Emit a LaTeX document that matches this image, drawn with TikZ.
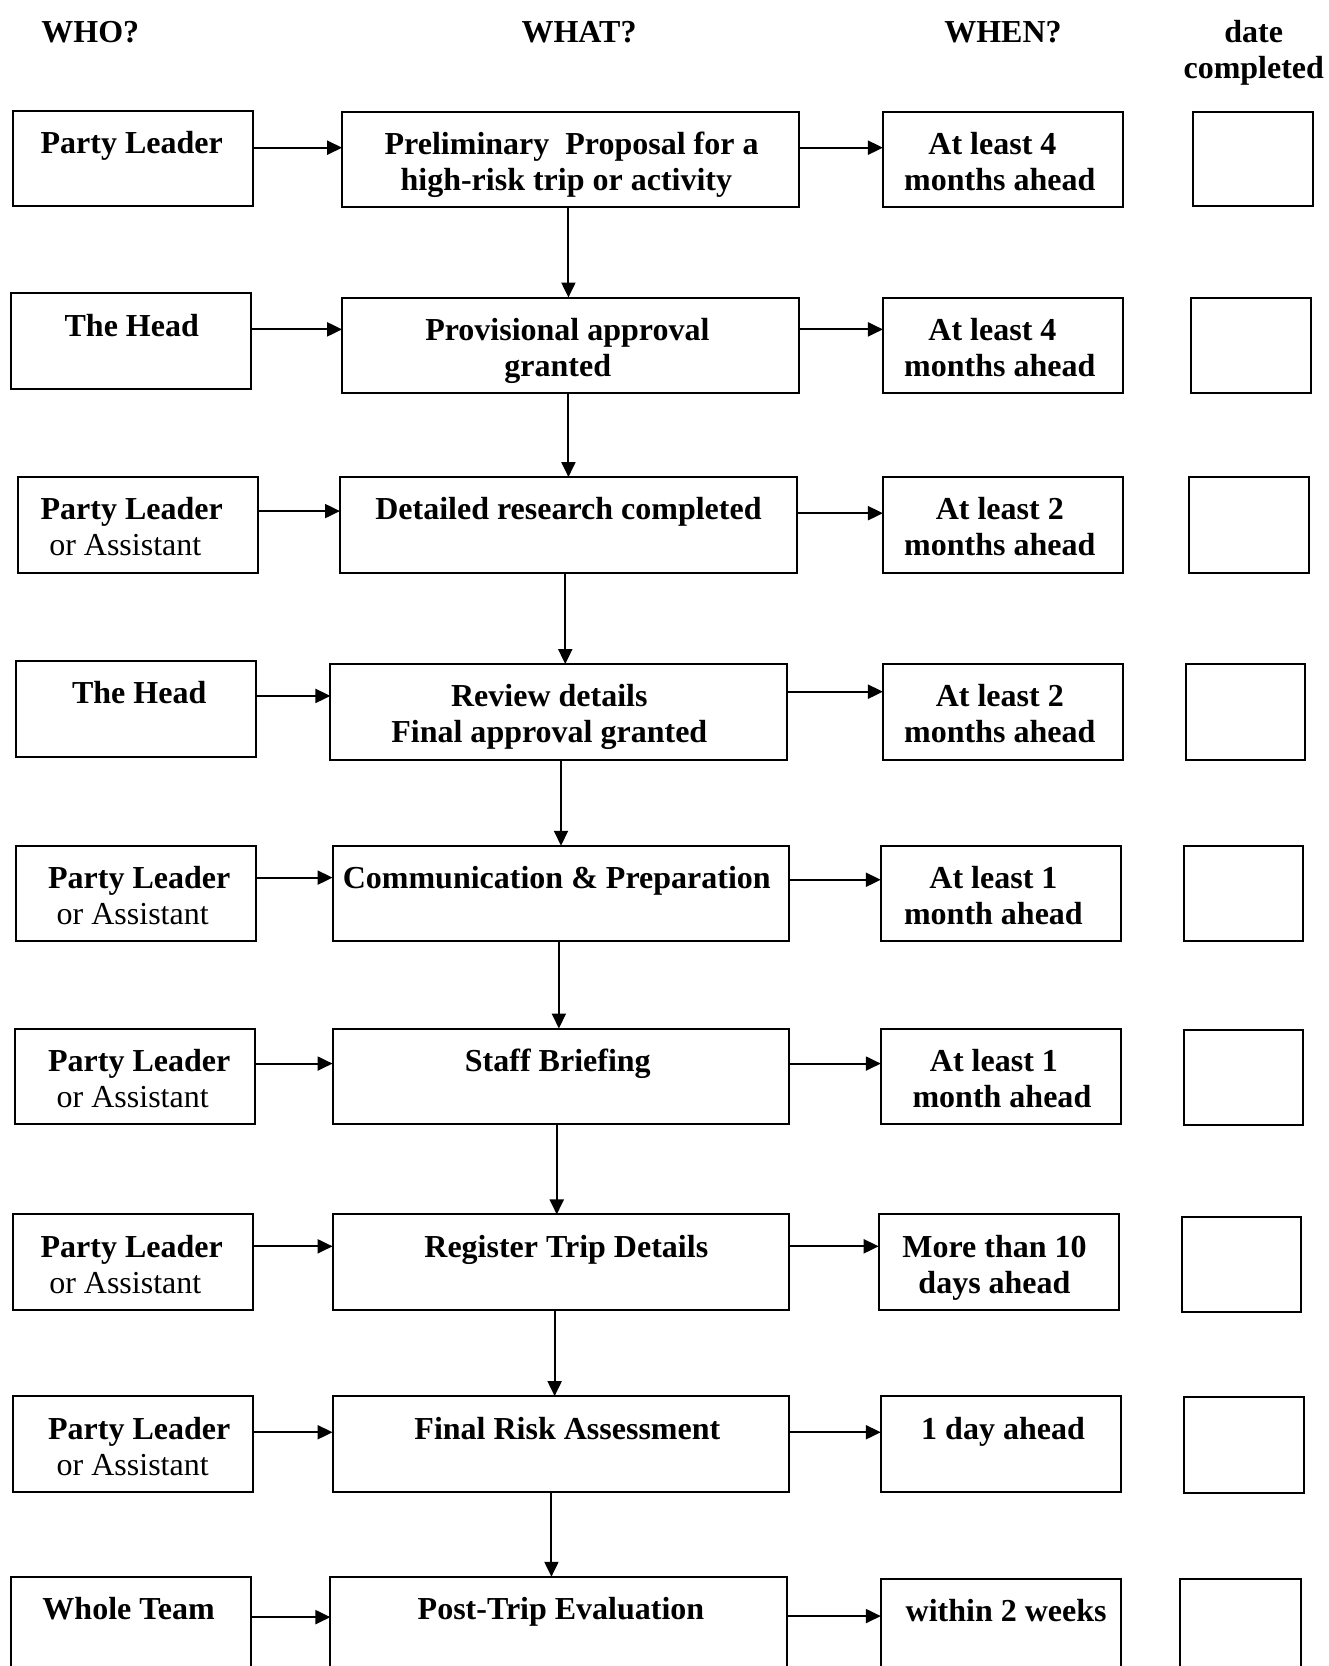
\documentclass[tikz,border=0pt]{standalone}
\usepackage{fontspec}
\setmainfont{Liberation Serif}
\usetikzlibrary{arrows.meta}
\newcommand{\flowbox}[5]{\node[box, minimum width={(#4-#2)*1.0624pt}, minimum height={(#5-#3)*1.0624pt}] (#1) at ({(#2+#4)/2},{(#3+#5)/2}) {};}
\begin{document}
\begin{tikzpicture}[x=1.0624pt, y=-1.0624pt,
  box/.style={draw, line width=2pt, inner sep=0pt, outer sep=0pt},
  txt/.style={anchor=north, inner sep=0pt, align=center, font=\fontsize{32}{36}\selectfont\bfseries},
  wtxt/.style={txt, align=left},
  arr/.style={line width=2pt, -{Triangle[length=15pt,width=14pt]}}]
\useasboundingbox (0,0) rectangle (1250,1568);
\clip (0,0) rectangle (1250,1568);
% headers
\node[txt] (hwho) at (85,20) {WHO?};
\node[txt] (hwhat) at (545,20) {WHAT?};
\node[txt] (hwhen) at (944,20) {WHEN?};
\node[txt] (hdate) at (1180,19) {date\\completed};
% who boxes
\flowbox{who1}{12}{104}{238}{194}
\flowbox{who2}{10}{276}{236}{366}
\flowbox{who3}{17}{449}{243}{539}
\flowbox{who4}{15}{622}{241}{712}
\flowbox{who5}{15}{796}{241}{886}
\flowbox{who6}{14}{968}{240}{1058}
\flowbox{who7}{12}{1143}{238}{1233}
\flowbox{who8}{12}{1314}{238}{1404}
\flowbox{who9}{10}{1484}{236}{1580}
% what boxes
\flowbox{what1}{322}{105}{752}{195}
\flowbox{what2}{322}{280}{752}{370}
\flowbox{what3}{320}{449}{750}{539}
\flowbox{what4}{311}{625}{741}{715}
\flowbox{what5}{313}{796}{743}{886}
\flowbox{what6}{313}{968}{743}{1058}
\flowbox{what7}{313}{1143}{743}{1233}
\flowbox{what8}{313}{1314}{743}{1404}
\flowbox{what9}{311}{1484}{741}{1580}
% when boxes
\flowbox{when1}{831}{105}{1057}{195}
\flowbox{when2}{831}{280}{1057}{370}
\flowbox{when3}{831}{449}{1057}{539}
\flowbox{when4}{831}{625}{1057}{715}
\flowbox{when5}{829}{796}{1055}{886}
\flowbox{when6}{829}{968}{1055}{1058}
\flowbox{when7}{827}{1143}{1053}{1233}
\flowbox{when8}{829}{1314}{1055}{1404}
\flowbox{when9}{829}{1486}{1055}{1580}
% date boxes
\flowbox{date1}{1123}{105}{1236}{194}
\flowbox{date2}{1121}{280}{1234}{370}
\flowbox{date3}{1119}{449}{1232}{539}
\flowbox{date4}{1116}{625}{1228}{715}
\flowbox{date5}{1114}{796}{1226}{886}
\flowbox{date6}{1114}{969}{1226}{1059}
\flowbox{date7}{1112}{1145}{1224}{1235}
\flowbox{date8}{1114}{1315}{1227}{1405}
\flowbox{date9}{1111}{1486}{1224}{1580}
% who texts
\node[wtxt] (twho1) at (124,123.3) {Party Leader};
\node[wtxt] (twho2) at (124,295.3) {The Head};
\node[wtxt] (twho3) at (124,468.3) {Party Leader\\\hspace*{0.27em}{\mdseries or Assistant}};
\node[wtxt] (twho4) at (131,641.3) {The Head};
\node[wtxt] (twho5) at (131,815.3) {Party Leader\\\hspace*{0.27em}{\mdseries or Assistant}};
\node[wtxt] (twho6) at (131,987.3) {Party Leader\\\hspace*{0.27em}{\mdseries or Assistant}};
\node[wtxt] (twho7) at (124,1162.3) {Party Leader\\\hspace*{0.27em}{\mdseries or Assistant}};
\node[wtxt] (twho8) at (131,1333.3) {Party Leader\\\hspace*{0.27em}{\mdseries or Assistant}};
\node[wtxt] (twho9) at (121,1503.3) {Whole Team};
% what texts
\node[txt] (twhat1) at (538,124.3) {Preliminary\ \ Proposal for a\\\hspace*{-0.33em}high-risk trip or activity};
\node[txt] (twhat2) at (534,299.3) {Provisional approval\\\hspace*{-0.6em}granted};
\node[txt] (twhat3) at (535,468.3) {Detailed research completed};
\node[txt] (twhat4) at (517,644.3) {Review details\\Final approval granted};
\node[txt] (twhat5) at (524,815.3) {Communication \& Preparation};
\node[txt] (twhat6) at (525,987.3) {Staff Briefing};
\node[txt] (twhat7) at (533,1162.3) {Register Trip Details};
\node[txt] (twhat8) at (534,1333.3) {Final Risk Assessment};
\node[txt] (twhat9) at (528,1503.3) {Post-Trip Evaluation};
% when texts
\node[txt] (twhen1) at (941,124.3) {At least 4\hspace*{0.46em}\\months ahead};
\node[txt] (twhen2) at (941,299.3) {At least 4\hspace*{0.46em}\\months ahead};
\node[txt] (twhen3) at (941,468.3) {At least 2\\months ahead};
\node[txt] (twhen4) at (941,644.3) {At least 2\\months ahead};
\node[txt] (twhen5) at (935,815.3) {At least 1\\month ahead};
\node[txt] (twhen6) at (943,987.3) {At least 1\hspace*{0.5em}\\month ahead};
\node[txt] (twhen7) at (936,1162.3) {More than 10\\days ahead};
\node[txt] (twhen8) at (944,1333.3) {1 day ahead};
\node[txt] (twhen9) at (947,1505.3) {within 2 weeks};
% horizontal arrows who -> what
\draw[arr] (who1.east |- 0,139) -- (what1.west |- 0,139);
\draw[arr] (who2.east |- 0,310) -- (what2.west |- 0,310);
\draw[arr] (who3.east |- 0,481) -- (what3.west |- 0,481);
\draw[arr] (who4.east |- 0,655) -- (what4.west |- 0,655);
\draw[arr] (who5.east |- 0,826) -- (what5.west |- 0,826);
\draw[arr] (who6.east |- 0,1001) -- (what6.west |- 0,1001);
\draw[arr] (who7.east |- 0,1173) -- (what7.west |- 0,1173);
\draw[arr] (who8.east |- 0,1348) -- (what8.west |- 0,1348);
\draw[arr] (who9.east |- 0,1522) -- (what9.west |- 0,1522);
% horizontal arrows what -> when
\draw[arr] (what1.east |- 0,139) -- (when1.west |- 0,139);
\draw[arr] (what2.east |- 0,310) -- (when2.west |- 0,310);
\draw[arr] (what3.east |- 0,483) -- (when3.west |- 0,483);
\draw[arr] (what4.east |- 0,651) -- (when4.west |- 0,651);
\draw[arr] (what5.east |- 0,828) -- (when5.west |- 0,828);
\draw[arr] (what6.east |- 0,1001) -- (when6.west |- 0,1001);
\draw[arr] (what7.east |- 0,1173) -- (when7.west |- 0,1173);
\draw[arr] (what8.east |- 0,1348) -- (when8.west |- 0,1348);
\draw[arr] (what9.east |- 0,1521) -- (when9.west |- 0,1521);
% vertical arrows
\draw[arr] (what1.south -| 535,0) -- (what2.north -| 535,0);
\draw[arr] (what2.south -| 535,0) -- (what3.north -| 535,0);
\draw[arr] (what3.south -| 532,0) -- (what4.north -| 532,0);
\draw[arr] (what4.south -| 528,0) -- (what5.north -| 528,0);
\draw[arr] (what5.south -| 526,0) -- (what6.north -| 526,0);
\draw[arr] (what6.south -| 524,0) -- (what7.north -| 524,0);
\draw[arr] (what7.south -| 522,0) -- (what8.north -| 522,0);
\draw[arr] (what8.south -| 519,0) -- (what9.north -| 519,0);
\end{tikzpicture}
\end{document}
